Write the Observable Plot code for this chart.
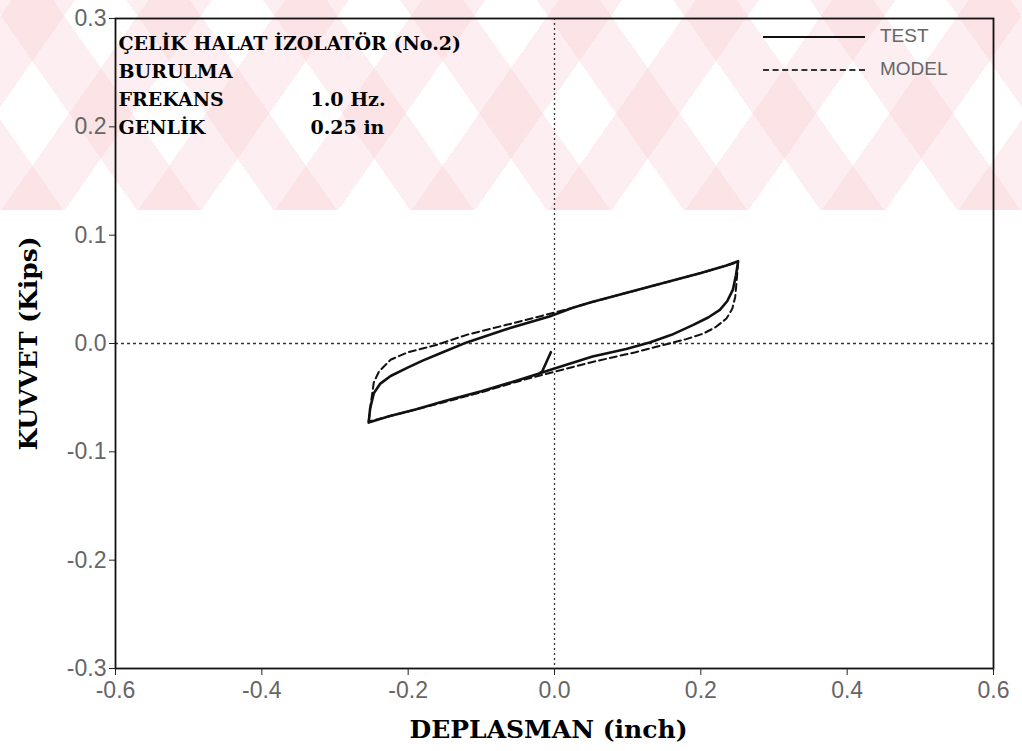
<!DOCTYPE html>
<html>
<head>
<meta charset="utf-8">
<script src="https://cdn.jsdelivr.net/npm/d3@7"></script>
<script src="https://cdn.jsdelivr.net/npm/@observablehq/plot@0.6"></script>
<style>
  html, body { margin: 0; padding: 0; background: white; }
  #wrap { position: relative; width: 1022px; height: 751px; overflow: hidden; }
  #wm { position: absolute; left: 0; top: 0; width: 1022px; height: 210px;
        background:
          repeating-linear-gradient(55deg, rgba(246,190,198,0.25) 0 52px, transparent 52px 112px),
          repeating-linear-gradient(-55deg, rgba(246,190,198,0.25) 0 52px, transparent 52px 112px); }
  #chart { position: absolute; left: 0; top: 0; }
  .lg { position: absolute; font-family: "Liberation Sans", sans-serif; font-size: 19px; color: #666; }
  .lgline { position: absolute; width: 102px; height: 0; }
</style>
</head>
<body>
<div id="wrap">
  <div id="wm"></div>
  <div id="chart"></div>
  <div class="lgline" style="left:763px; top:36px; border-top:2.5px solid #111;"></div>
  <div class="lg" style="left:880px; top:25px;">TEST</div>
  <div class="lgline" style="left:763px; top:69px; border-top:2px dashed #333;"></div>
  <div class="lg" style="left:880px; top:58px;">MODEL</div>
</div>
<script>
// Axis ticks
const xTicks = [-0.6, -0.4, -0.2, 0.0, 0.2, 0.4, 0.6];
const yTicks = [-0.3, -0.2, -0.1, 0.0, 0.1, 0.2, 0.3];

// Text
const infoLabels = ["ÇELİK HALAT İZOLATÖR (No.2)", "BURULMA", "FREKANS", "GENLİK"];
const infoValues = ["", "", "1.0 Hz.", "0.25 in"];
const xLabel = "DEPLASMAN (inch)";
const yLabel = "KUVVET (Kips)";

// TEST loop (solid)
const testX = [-0.005,-0.017,-0.022,-0.050,-0.100,-0.150,-0.190,-0.225,-0.254,-0.252,-0.247,-0.238,-0.224,-0.200,-0.181,-0.156,-0.120,-0.067,-0.007,0.025,0.050,0.100,0.150,0.200,0.235,0.251,0.248,0.244,0.236,0.226,0.210,0.189,0.160,0.130,0.098,0.052,0.000,-0.022];
const testY = [-0.008,-0.026,-0.028,-0.034,-0.044,-0.053,-0.061,-0.067,-0.073,-0.060,-0.046,-0.037,-0.030,-0.022,-0.016,-0.009,0.001,0.013,0.025,0.033,0.038,0.047,0.056,0.065,0.072,0.076,0.063,0.050,0.039,0.031,0.024,0.017,0.008,0.001,-0.005,-0.012,-0.023,-0.028];

// MODEL loop (dashed)
const modelX = [-0.254,-0.251,-0.247,-0.240,-0.224,-0.200,-0.160,-0.120,-0.067,-0.020,0.025,0.050,0.100,0.150,0.200,0.235,0.251,0.249,0.247,0.243,0.235,0.220,0.203,0.180,0.157,0.111,0.052,0.000,-0.050,-0.100,-0.150,-0.190,-0.225,-0.254];
const modelY = [-0.072,-0.055,-0.036,-0.026,-0.015,-0.008,-0.001,0.008,0.017,0.025,0.033,0.038,0.047,0.056,0.065,0.072,0.075,0.058,0.043,0.032,0.023,0.015,0.009,0.004,0.000,-0.008,-0.017,-0.026,-0.035,-0.045,-0.054,-0.061,-0.067,-0.072];

const test = testX.map((x, i) => ({x, y: testY[i]}));
const model = modelX.map((x, i) => ({x, y: modelY[i]}));

const fmt = d => d.toFixed(1);

const chart = Plot.plot({
  width: 1022,
  height: 751,
  marginLeft: 115,
  marginRight: 29,
  marginTop: 18,
  marginBottom: 83,
  style: { background: "transparent", fontFamily: "Liberation Sans, sans-serif", fontSize: "23px" },
  x: { domain: [-0.6, 0.6] },
  y: { domain: [-0.3, 0.3] },
  marks: [
    Plot.ruleX([0], { stroke: "#333", strokeWidth: 1.3, strokeDasharray: "2,3" }),
    Plot.ruleY([0], { stroke: "#333", strokeWidth: 1.3, strokeDasharray: "3,3" }),
    Plot.line(model, { x: "x", y: "y", stroke: "#111", strokeWidth: 2, strokeDasharray: "7,4" }),
    Plot.line(test, { x: "x", y: "y", stroke: "#111", strokeWidth: 2.6, strokeLinejoin: "round" }),
    Plot.frame({ stroke: "#111", strokeWidth: 1.8 }),
    Plot.axisX({ ticks: xTicks, tickFormat: fmt, tickSize: 7, tickPadding: 6, label: null, fill: "#666", stroke: "#222" }),
    Plot.axisY({ ticks: yTicks, tickFormat: fmt, tickSize: 6, tickPadding: 3, label: null, fill: "#666", stroke: "#222" }),
    Plot.text([infoLabels.join("\n")], { text: d => d, frameAnchor: "top-left", textAnchor: "start", lineAnchor: "top", dx: 3, dy: 12, lineHeight: 1.47, fontFamily: "DejaVu Serif", fontWeight: "bold", fontSize: 19, fill: "#000" }),
    Plot.text([infoValues.join("\n")], { text: d => d, frameAnchor: "top-left", textAnchor: "start", lineAnchor: "top", dx: 195, dy: 12, lineHeight: 1.47, fontFamily: "DejaVu Serif", fontWeight: "bold", fontSize: 19, fill: "#000" }),
    Plot.text([xLabel], { text: d => d, frameAnchor: "bottom", textAnchor: "middle", lineAnchor: "middle", dx: -6, dy: 61, fontFamily: "DejaVu Serif", fontWeight: "bold", fontSize: 25, fill: "#000" }),
    Plot.text([yLabel], { text: d => d, frameAnchor: "left", textAnchor: "middle", lineAnchor: "middle", dx: -87, rotate: -90, fontFamily: "DejaVu Serif", fontWeight: "bold", fontSize: 25, fill: "#000" })
  ]
});
document.getElementById("chart").appendChild(chart);
</script>
</body>
</html>
